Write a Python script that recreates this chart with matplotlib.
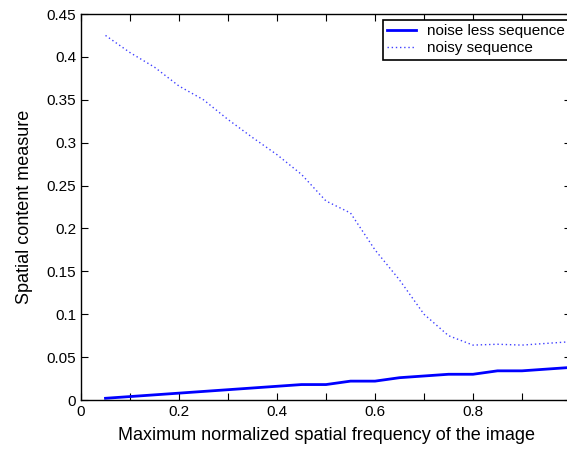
import numpy as np
import matplotlib
matplotlib.use('Agg')
import matplotlib.pyplot as plt
from matplotlib.ticker import MultipleLocator

plt.rcParams['font.family'] = ['Liberation Sans', 'DejaVu Sans']

# maximum normalized spatial frequency
freq = [0.05, 0.10, 0.15, 0.20, 0.25, 0.30, 0.35, 0.40, 0.45, 0.50,
        0.55, 0.60, 0.65, 0.70, 0.75, 0.80, 0.85, 0.90, 0.95, 1.00]
noiseless = [0.002, 0.004, 0.006, 0.008, 0.010, 0.012, 0.014, 0.016, 0.018, 0.018,
             0.022, 0.022, 0.026, 0.028, 0.030, 0.030, 0.034, 0.034, 0.036, 0.038]
noisy = [0.425, 0.405, 0.388, 0.366, 0.350, 0.327, 0.306, 0.286, 0.263, 0.232,
         0.218, 0.175, 0.140, 0.100, 0.075, 0.064, 0.065, 0.064, 0.066, 0.068]
series_names = ['noise less sequence', 'noisy sequence']
xticks = [0, 0.2, 0.4, 0.6, 0.8]
xtick_labels = ['0', '0.2', '0.4', '0.6', '0.8']
yticks = [0, 0.05, 0.1, 0.15, 0.2, 0.25, 0.3, 0.35, 0.4, 0.45]
ytick_labels = ['0', '0.05', '0.1', '0.15', '0.2', '0.25', '0.3', '0.35', '0.4', '0.45']

W, H = 567, 451
fig = plt.figure(figsize=(W / 100, H / 100), dpi=100)
ax = fig.add_axes([81 / W, 51 / H, 490 / W, 386 / H])

ax.plot(freq, noiseless, color='#0000ff', linewidth=2, label=series_names[0])
ax.plot(freq, noisy, color='#0000ff', linewidth=1, linestyle=(0, (1, 2)),
        alpha=0.75, label=series_names[1])

ax.set_xlim(0, 1)
ax.set_ylim(0, 0.45)
ax.set_xticks(xticks)
ax.set_xticklabels(xtick_labels)
ax.xaxis.set_minor_locator(MultipleLocator(0.1))
ax.set_yticks(yticks)
ax.set_yticklabels(ytick_labels)
ax.tick_params(which='both', direction='in', top=True, right=True, length=5,
               width=0.8, labelsize=11)
for s in ax.spines.values():
    s.set_linewidth(1.0)

ax.set_xlabel('Maximum normalized spatial frequency of the image', fontsize=13, labelpad=6)
ax.set_ylabel('Spatial content measure', fontsize=13, labelpad=10)

leg = ax.legend(loc='upper right', bbox_to_anchor=(0.997, 0.985), borderaxespad=0,
                fontsize=11, fancybox=False, framealpha=1, edgecolor='black',
                handlelength=1.9, handletextpad=0.7, borderpad=0.3, labelspacing=0.2)
leg.get_frame().set_linewidth(1.2)

fig.savefig('out.png', dpi=100)
